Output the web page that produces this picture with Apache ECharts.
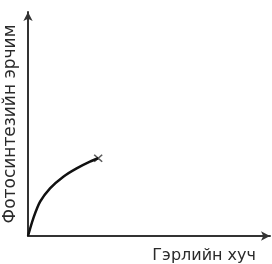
<!DOCTYPE html>
<html><head><meta charset="utf-8">
<script src="https://cdn.jsdelivr.net/npm/echarts@6/dist/echarts.min.js"></script>
<style>html,body{margin:0;padding:0;background:#fff}#c{width:272px;height:264px}</style>
</head><body><div id="c"></div>
<script>
const xLabel = "Гэрлийн хуч";
const yLabel = "Фотосинтезийн эрчим";
const lightX = [0, 0.22, 0.50, 0.91, 1.46, 2.01, 2.56, 2.90];
const rateY = [0, 0.79, 1.53, 2.13, 2.65, 3.02, 3.32, 3.47];
const endX = [2.90];
const endY = [3.47];

const chart = echarts.init(document.getElementById('c'));
chart.setOption({
  animation: false,
  grid: {left: 28, right: 2, top: 12, bottom: 28, outerBoundsMode: 'none', containLabel: false},
  xAxis: {
    type: 'value', min: 0, max: 10,
    axisLine: {lineStyle: {color: '#333', width: 2}, symbol: ['none', 'arrow'], symbolSize: [7, 9]},
    axisTick: {show: false}, axisLabel: {show: false}, splitLine: {show: false},
    name: xLabel, nameLocation: 'end', nameGap: 0,
    nameTextStyle: {fontFamily: 'DejaVu Sans', fontSize: 16, color: '#2a2a2a',
      align: 'right', verticalAlign: 'top', padding: [12, 14, 0, 0]}
  },
  yAxis: {
    type: 'value', min: 0, max: 10,
    axisLine: {lineStyle: {color: '#333', width: 2}, symbol: ['none', 'arrow'], symbolSize: [7, 9]},
    axisTick: {show: false}, axisLabel: {show: false}, splitLine: {show: false},
    name: yLabel, nameLocation: 'middle', nameGap: 9, nameRotate: 90,
    nameTextStyle: {fontFamily: 'DejaVu Sans', fontSize: 17, color: '#2a2a2a'}
  },
  series: [
    {type: 'line', data: lightX.map((x, i) => [x, rateY[i]]), smooth: 0.3, symbol: 'none',
     lineStyle: {color: '#111', width: 2.5}},
    {type: 'scatter', data: endX.map((x, i) => [x, endY[i]]),
     symbol: 'path://M0,0L10,10M10,0L0,10', symbolSize: [8, 7],
     itemStyle: {color: 'none', borderColor: '#333', borderWidth: 1.5}}
  ]
});
</script></body></html>
